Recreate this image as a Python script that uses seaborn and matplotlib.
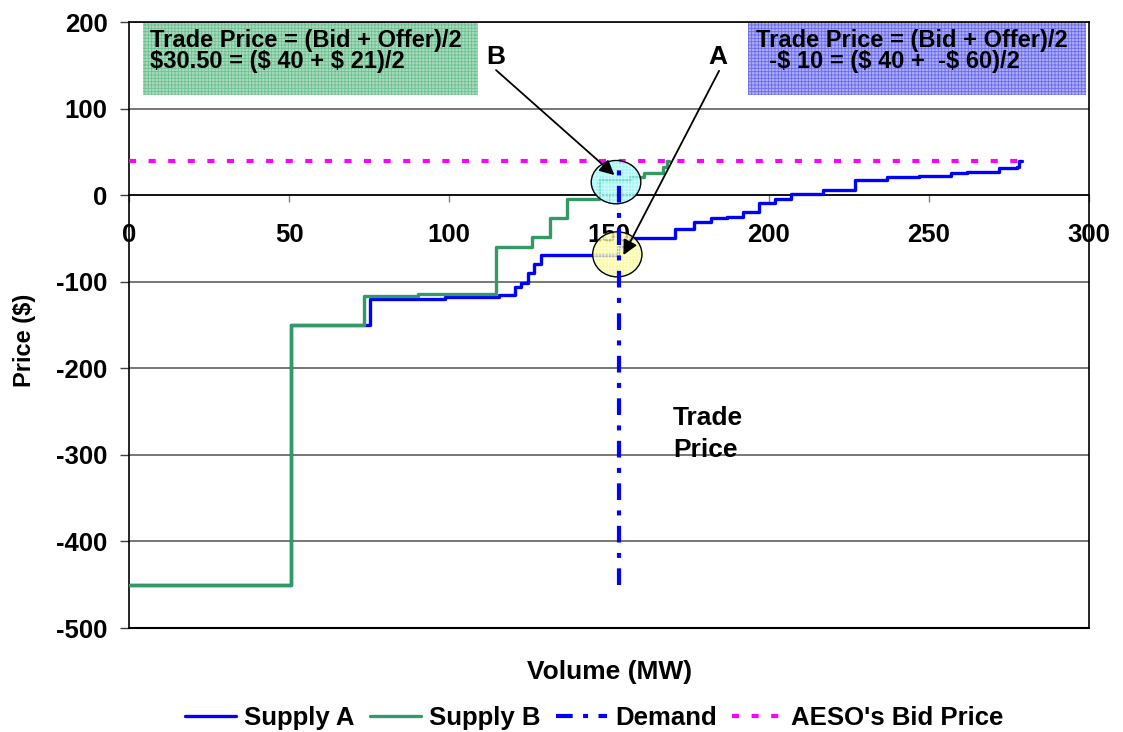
import matplotlib
matplotlib.use("Agg")
import matplotlib.pyplot as plt
import seaborn as sns
from matplotlib.patches import Rectangle, Ellipse

# supply offer stacks (volume MW, price $), step curves
supply_a_mw = [0, 50.5, 75.3, 98.7, 115.7, 120.6, 122.6, 124.6, 126.5, 128.7,
               152.9, 156.5, 165.7, 170.6, 176.7, 181.8, 186.8, 192.0, 196.9, 201.9,
               207.0, 217.0, 226.9, 236.8, 247.0, 257.0, 262.0, 272.0, 277.4, 278.2, 279.0]
supply_a_price = [-450, -150, -120, -118, -115, -106, -101, -90, -79, -69,
                  -60, -50, -49, -39, -31, -26, -25, -20, -9, -5,
                  1, 6.5, 18, 20.5, 22, 26, 27, 31, 33, 40, 40]

supply_b_mw = [0, 50.5, 73.4, 90.4, 114.8, 125.8, 131.6, 136.8, 146.8, 156.6, 161.0, 167.0, 168.0, 168.6]
supply_b_price = [-450, -150, -117, -114, -60, -48, -26, -5, 18, 21, 25, 32, 40, 40]

demand_mw = [153, 153]
demand_price = [40, -450]

bid_mw = [0, 280]
bid_price = [40, 40]

x_ticks = [0, 50, 100, 150, 200, 250, 300]
y_ticks = [-500, -400, -300, -200, -100, 0, 100, 200]

sns.set_style("white")
plt.rcParams["font.family"] = ["Liberation Sans", "DejaVu Sans"]
plt.rcParams["font.weight"] = "bold"
plt.rcParams["text.color"] = "black"
plt.rcParams["axes.unicode_minus"] = False
plt.rcParams["hatch.linewidth"] = 0.6

fig = plt.figure(figsize=(11.23, 7.32), dpi=100)
ax = fig.add_axes([129 / 1123, 1 - 628 / 732, 960 / 1123, 606 / 732])

sns.lineplot(x=supply_a_mw, y=supply_a_price, ax=ax, color="#0000ff", lw=2.4,
             drawstyle="steps-post", estimator=None, label="Supply A", zorder=4)
sns.lineplot(x=supply_b_mw, y=supply_b_price, ax=ax, color="#339966", lw=2.4,
             drawstyle="steps-post", estimator=None, label="Supply B", zorder=5)
sns.lineplot(x=demand_mw, y=demand_price, ax=ax, color="#0000ff", lw=3,
             linestyle=(0, (4, 2.5, 1.2, 2.5)), estimator=None, label="Demand", zorder=7)
sns.lineplot(x=bid_mw, y=bid_price, ax=ax, color="#ff00ff", lw=3,
             linestyle=(0, (1.7, 3.0)), estimator=None, label="AESO's Bid Price", zorder=3)

ax.set_xlim(0, 300)
ax.set_ylim(-500, 200)
ax.set_xticks(x_ticks)
ax.set_yticks(y_ticks)
ax.set_xlabel("")
ax.set_ylabel("")
ax.yaxis.grid(True, color="#606060", lw=1.2)
ax.xaxis.grid(False)

for s in ["top", "right", "left", "bottom"]:
    ax.spines[s].set_visible(True)
    ax.spines[s].set_color("black")
    ax.spines[s].set_linewidth(1.2)
ax.spines["bottom"].set_position(("data", 0))
ax.axhline(-500, color="black", lw=1.5, clip_on=False, zorder=2)

ax.tick_params(axis="y", direction="out", length=6.5, width=1, color="#404040",
               labelsize=18.5, labelcolor="black", pad=9, left=True)
ax.tick_params(axis="x", direction="out", length=5, width=1, color="#808080",
               labelsize=18.5, labelcolor="black", pad=15, bottom=True)
for lab in ax.get_xticklabels() + ax.get_yticklabels():
    lab.set_fontweight("bold")

# formula boxes
ax.add_patch(Rectangle((4.4, 115.5), 104.6, 83, facecolor="#a9dcbd",
                       edgecolor="#6cc093", hatch="+++++", lw=0, zorder=3))
ax.add_patch(Rectangle((193.5, 115.5), 105.7, 83, facecolor="#aeaef6",
                       edgecolor="#6a6aee", hatch="+++++", lw=0, zorder=3))
ax.text(6.6, 171.4, r"Trade Price = (Bid + Offer)/2", fontsize=17, fontweight="bold",
        va="baseline", ha="left", zorder=4)
ax.text(6.6, 146.4, r"\$30.50 = (\$ 40 + \$ 21)/2", fontsize=17, fontweight="bold",
        va="baseline", ha="left", zorder=4)
ax.text(196, 171.4, r"Trade Price = (Bid + Offer)/2", fontsize=17, fontweight="bold",
        va="baseline", ha="left", zorder=4)
ax.text(196, 146.4, r"  -\$ 10 = (\$ 40 +  -\$ 60)/2", fontsize=17, fontweight="bold",
        va="baseline", ha="left", zorder=4)

# highlighted trade points
for (cx, cy, w, h, fc, hc) in [(152.2, 15, 15.5, 50, "#88f4f4", "#e0ffff"),
                               (152.6, -68.4, 15.4, 52, "#fafa80", "#fffff0")]:
    ax.add_patch(Ellipse((cx, cy), w, h, facecolor=fc, edgecolor=hc, hatch="+++++",
                         lw=0, alpha=0.75, zorder=6.5))
    ax.add_patch(Ellipse((cx, cy), w, h, facecolor="none", edgecolor="black",
                         lw=1, zorder=6.6))

arrow = dict(arrowstyle="-|>", color="black", lw=1.3, mutation_scale=22,
             shrinkA=0, shrinkB=0)
ax.annotate("", xy=(151.7, 23.2), xytext=(114.7, 144.4), arrowprops=arrow, zorder=8)
ax.annotate("", xy=(154.5, -69.2), xytext=(184.4, 143.6), arrowprops=arrow, zorder=8)
ax.text(114.7, 160, "B", fontsize=19, fontweight="bold", ha="center", va="center")
ax.text(184.1, 160, "A", fontsize=19, fontweight="bold", ha="center", va="center")

ax.text(170, -276, "Trade\nPrice", fontsize=19, fontweight="bold", ha="left",
        va="center", linespacing=1.45)

fig.text(0.022, 0.535, r"Price (\$)", rotation=90, fontsize=17, fontweight="bold",
         ha="center", va="center")
fig.text(0.543, 0.082, "Volume (MW)", fontsize=19, fontweight="bold",
         ha="center", va="center")

handles, labels = ax.get_legend_handles_labels()
ax.get_legend().remove()
fig.legend(handles, labels, loc="center", bbox_to_anchor=(0.529, 0.019), ncol=4,
           frameon=False, handlelength=2.0, handletextpad=0.3,
           columnspacing=0.6, prop={"weight": "bold", "size": 18.5})

fig.savefig("out.png", dpi=100)
